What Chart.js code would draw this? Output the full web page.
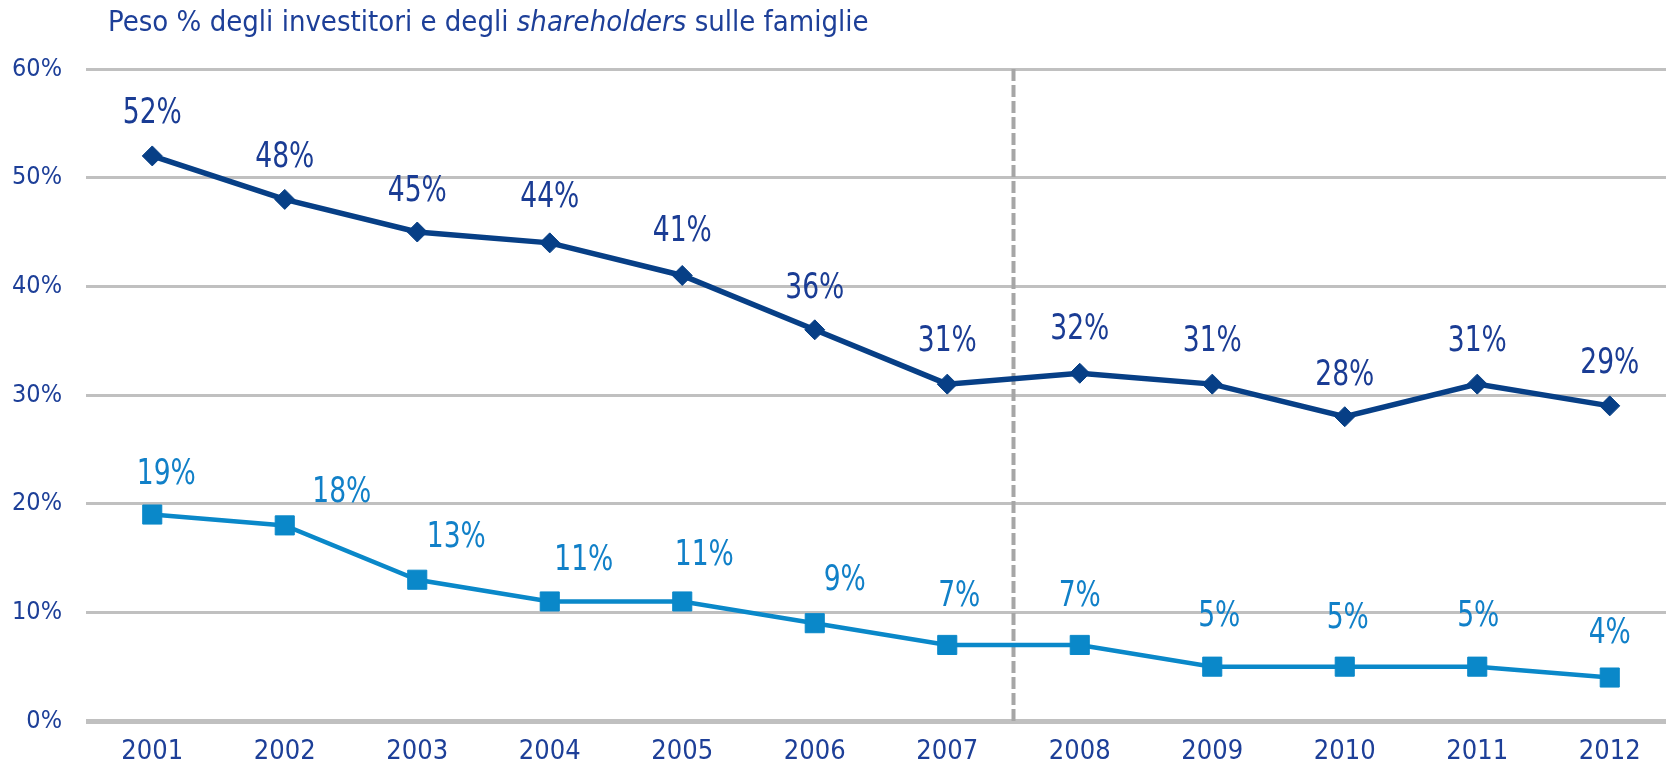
<!DOCTYPE html>
<html>
<head>
<meta charset="utf-8">
<script src="https://cdn.jsdelivr.net/npm/chart.js@4/dist/chart.umd.min.js"></script>
<style>
body { margin: 0; width: 1666px; height: 764px; overflow: hidden; background: #fff; }
#wrap { position: relative; width: 1700px; height: 764px; }
#titolo {
  position: absolute; left: 108px; top: 4px; white-space: nowrap;
  font-family: 'DejaVu Sans Condensed', sans-serif;
  font-size: 29px; color: #1d3f98;
}
</style>
</head>
<body>
<div id="wrap">
  <canvas id="chart" width="1700" height="764"></canvas>
  <div id="titolo">Peso % degli investitori e degli <i>shareholders</i> sulle famiglie</div>
</div>
<script>
var ANNI = ['2001', '2002', '2003', '2004', '2005', '2006', '2007', '2008', '2009', '2010', '2011', '2012'];
var INVESTITORI = [52, 48, 45, 44, 41, 36, 31, 32, 31, 28, 31, 29];
var SHAREHOLDERS = [19, 18, 13, 11, 11, 9, 7, 7, 5, 5, 5, 4];
var Y_MIN = 0;
var Y_MAX = 60;
var Y_STEP = 10;

var FONT = "'DejaVu Sans Condensed', sans-serif";
var BLU_SCURO = '#073f86';
var BLU_CHIARO = '#0a88c9';
var TESTO = '#1d3f98';

// spostamenti delle etichette (come nel grafico originale)
var NUDGE = {
  0: { dx: [0, 0, 0, 0, 0, 0, 0, 0, 0, 0, 0, 0], dy: [42, 42, 40, 45, 44, 41, 42, 44, 42, 41, 42, 42] },
  1: { dx: [14, 57, 39, 34, 22, 30, 12, 0, 7, 3, 1, 0], dy: [40, 33, 42, 41, 46, 43, 48, 48, 50, 48, 50, 44] }
};

// linea tratteggiata tra 2007 e 2008
var linea2007 = {
  id: 'linea2007',
  beforeDatasetsDraw: function(chart) {
    var x = chart.scales.x;
    var a = chart.chartArea;
    var px = (x.getPixelForValue(6) + x.getPixelForValue(7)) / 2;
    var c = chart.ctx;
    c.save();
    c.strokeStyle = '#a6a6a6';
    c.lineWidth = 4;
    c.setLineDash([12, 4]);
    c.beginPath();
    c.moveTo(px, a.top);
    c.lineTo(px, a.bottom);
    c.stroke();
    c.restore();
  }
};

var etichette = {
  id: 'etichette',
  afterDatasetsDraw: function(chart) {
    var c = chart.ctx;
    c.save();
    c.font = '36px ' + FONT;
    c.textAlign = 'center';
    c.textBaseline = 'middle';
    chart.data.datasets.forEach(function(ds, i) {
      var meta = chart.getDatasetMeta(i);
      c.fillStyle = ds.labelColor;
      meta.data.forEach(function(pt, j) {
        c.save();
        c.translate(pt.x + NUDGE[i].dx[j], pt.y - NUDGE[i].dy[j]);
        c.scale(0.82, 1);
        c.fillText(ds.data[j] + '%', 0, 0);
        c.restore();
      });
    });
    c.restore();
  }
};

var ctx = document.getElementById('chart');
var chart = new Chart(ctx, {
  type: 'line',
  data: {
    labels: ANNI,
    datasets: [{
      label: 'Investitori',
      data: INVESTITORI,
      borderColor: BLU_SCURO,
      backgroundColor: BLU_SCURO,
      borderWidth: 5.5,
      pointStyle: 'rectRot',
      pointRadius: 10,
      pointBorderWidth: 1,
      labelColor: '#1a3c94',
      tension: 0
    }, {
      label: 'Shareholders',
      data: SHAREHOLDERS,
      borderColor: BLU_CHIARO,
      backgroundColor: BLU_CHIARO,
      borderWidth: 4.5,
      pointStyle: 'rect',
      pointRadius: 13.5,
      pointBorderWidth: 1,
      labelColor: '#1180c8',
      tension: 0
    }]
  },
  options: {
    responsive: false,
    animation: false,
    layout: { padding: { top: 69, right: 24, left: 0, bottom: 0 } },
    plugins: {
      legend: { display: false },
      title: { display: false },
      tooltip: { enabled: false }
    },
    scales: {
      x: {
        offset: true,
        grid: { display: false, drawTicks: false },
        border: { display: false },
        ticks: { color: TESTO, font: { family: FONT, size: 27 }, padding: 15, maxRotation: 0 },
        afterFit: function(s) { s.height = 43; }
      },
      y: {
        min: Y_MIN,
        max: Y_MAX,
        grid: {
          color: '#c0c0c0',
          lineWidth: function(c) { return c.tick && c.tick.value === 0 ? 5 : 3; },
          drawTicks: false
        },
        border: { display: false },
        ticks: {
          stepSize: Y_STEP,
          color: TESTO,
          font: { family: FONT, size: 25 },
          padding: 24,
          callback: function(v) { return v + '%'; }
        },
        afterFit: function(s) { s.width = 86; }
      }
    }
  },
  plugins: [linea2007, etichette]
});
</script>
</body>
</html>
